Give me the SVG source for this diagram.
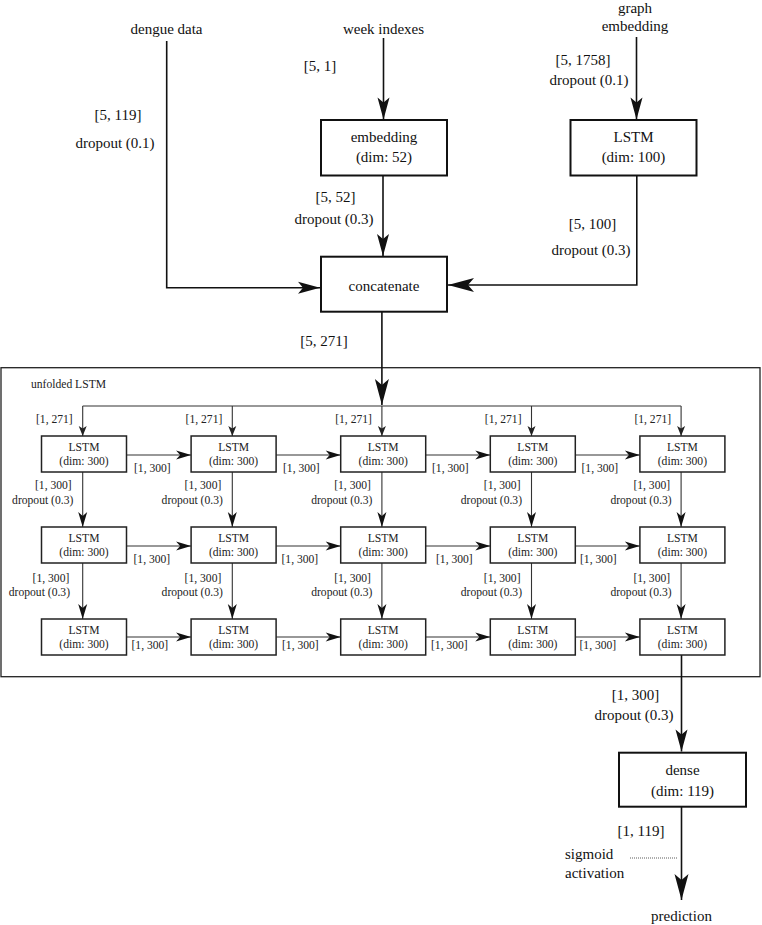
<svg xmlns="http://www.w3.org/2000/svg" width="762" height="925" viewBox="0 0 762 925" font-family="'Liberation Serif', 'Times New Roman', Times, 'DejaVu Serif', serif">
<style>
text{font-family:'Liberation Serif','Times New Roman',Times,'DejaVu Serif',serif;fill:#111}
.t{font-size:15px;text-anchor:middle}
.s{font-size:11.6px;fill:#222}
.m{text-anchor:middle}
.e{text-anchor:end}
.big{fill:#fff;stroke:#111;stroke-width:2}
.box{fill:#fff;stroke:#222;stroke-width:1.5}
.ln{fill:none;stroke:#111;stroke-width:1.6}
.il{fill:none;stroke:#333;stroke-width:1.1}
</style>
<defs>
<marker id="aL" markerUnits="userSpaceOnUse" markerWidth="26" markerHeight="14" refX="26" refY="7" orient="auto" overflow="visible"><path d="M0,0 L26,7 L0,14 L6,7 Z" fill="#111"/></marker>
<marker id="aM" markerUnits="userSpaceOnUse" markerWidth="22" markerHeight="12" refX="22" refY="6" orient="auto" overflow="visible"><path d="M0,0 L22,6 L0,12 L5,6 Z" fill="#111"/></marker>
<marker id="aS" markerUnits="userSpaceOnUse" markerWidth="15" markerHeight="9" refX="15" refY="4.5" orient="auto" overflow="visible"><path d="M0,0 L15,4.5 L0,9 L4,4.5 Z" fill="#111"/></marker>
<marker id="aT" markerUnits="userSpaceOnUse" markerWidth="10" markerHeight="8" refX="10" refY="4" orient="auto" overflow="visible"><path d="M0,0 L10,4 L0,8 L2.5,4 Z" fill="#222"/></marker>
</defs>
<rect width="762" height="925" fill="#fff"/>

<g id="unfolded">
<rect x="1" y="367.7" width="759" height="309" fill="none" stroke="#222" stroke-width="1.3"/>
<text class="s" x="31" y="388">unfolded LSTM</text>
</g>

<g id="connectors">
<path class="ln" d="M166.7,41 V287.7 H320" marker-end="url(#aM)"/>
<path class="ln" d="M383.5,38 V119.5" marker-end="url(#aM)"/>
<path class="ln" d="M636.5,37 V119.5" marker-end="url(#aM)"/>
<path class="ln" d="M383,175.5 V256" marker-end="url(#aM)"/>
<path class="ln" d="M636.8,175.5 V285 H448" marker-end="url(#aL)"/>
<path class="ln" d="M381.9,312 V405" marker-end="url(#aL)"/>
<path class="ln" d="M681.5,655 V751.5" marker-end="url(#aM)"/>
<path class="ln" d="M681.5,807 V900" marker-end="url(#aL)"/>
<line x1="630" y1="858" x2="678" y2="858" stroke="#333" stroke-width="0.8" stroke-dasharray="1,1"/>
<path class="il" d="M82.7,406 H681.1"/>
<path class="il" d="M82.7,406 V436" marker-end="url(#aT)"/>
<path class="il" d="M232.3,406 V436" marker-end="url(#aT)"/>
<path class="il" d="M381.9,406 V436" marker-end="url(#aT)"/>
<path class="il" d="M531.5,406 V436" marker-end="url(#aT)"/>
<path class="il" d="M681.1,406 V436" marker-end="url(#aT)"/>
<path class="il" d="M126.5,455 H191.1" marker-end="url(#aS)"/>
<path class="il" d="M276.1,455 H340.7" marker-end="url(#aS)"/>
<path class="il" d="M425.7,455 H490.3" marker-end="url(#aS)"/>
<path class="il" d="M575.3,455 H639.9" marker-end="url(#aS)"/>
<path class="il" d="M126.5,546 H191.1" marker-end="url(#aS)"/>
<path class="il" d="M276.1,546 H340.7" marker-end="url(#aS)"/>
<path class="il" d="M425.7,546 H490.3" marker-end="url(#aS)"/>
<path class="il" d="M575.3,546 H639.9" marker-end="url(#aS)"/>
<path class="il" d="M126.5,637 H191.1" marker-end="url(#aS)"/>
<path class="il" d="M276.1,637 H340.7" marker-end="url(#aS)"/>
<path class="il" d="M425.7,637 H490.3" marker-end="url(#aS)"/>
<path class="il" d="M575.3,637 H639.9" marker-end="url(#aS)"/>
<path class="il" d="M82.7,472 V527" marker-end="url(#aS)"/>
<path class="il" d="M232.3,472 V527" marker-end="url(#aS)"/>
<path class="il" d="M381.9,472 V527" marker-end="url(#aS)"/>
<path class="il" d="M531.5,472 V527" marker-end="url(#aS)"/>
<path class="il" d="M681.1,472 V527" marker-end="url(#aS)"/>
<path class="il" d="M82.7,563 V619" marker-end="url(#aS)"/>
<path class="il" d="M232.3,563 V619" marker-end="url(#aS)"/>
<path class="il" d="M381.9,563 V619" marker-end="url(#aS)"/>
<path class="il" d="M531.5,563 V619" marker-end="url(#aS)"/>
<path class="il" d="M681.1,563 V619" marker-end="url(#aS)"/>
</g>

<g id="labels">
<text class="t" x="166.5" y="34">dengue data</text>
<text class="t" x="383.5" y="34">week indexes</text>
<text class="t" x="635" y="13">graph</text>
<text class="t" x="635" y="31">embedding</text>
<text class="t" x="320" y="71">[5, 1]</text>
<text class="t" x="583" y="65">[5, 1758]</text>
<text class="t" x="589" y="85">dropout (0.1)</text>
<text class="t" x="118" y="120">[5, 119]</text>
<text class="t" x="115" y="148">dropout (0.1)</text>
<text class="t" x="335.5" y="202">[5, 52]</text>
<text class="t" x="334" y="224">dropout (0.3)</text>
<text class="t" x="592.5" y="228.5">[5, 100]</text>
<text class="t" x="591" y="254.5">dropout (0.3)</text>
<text class="t" x="324" y="346">[5, 271]</text>
<text class="t" x="635.5" y="700">[1, 300]</text>
<text class="t" x="634" y="720">dropout (0.3)</text>
<text class="t" x="641" y="836">[1, 119]</text>
<text class="t" x="565" y="859" style="text-anchor:start">sigmoid</text>
<text class="t" x="565" y="878" style="text-anchor:start">activation</text>
<text class="t" x="681.5" y="921">prediction</text>
<text class="s e" x="72.7" y="422.5">[1, 271]</text>
<text class="s e" x="222.3" y="422.5">[1, 271]</text>
<text class="s e" x="371.9" y="422.5">[1, 271]</text>
<text class="s e" x="521.5" y="422.5">[1, 271]</text>
<text class="s e" x="671.1" y="422.5">[1, 271]</text>
<text class="s" x="134" y="471.5">[1, 300]</text>
<text class="s" x="283" y="471.5">[1, 300]</text>
<text class="s" x="432" y="471.5">[1, 300]</text>
<text class="s" x="581.5" y="471.5">[1, 300]</text>
<text class="s" x="133.5" y="562.5">[1, 300]</text>
<text class="s" x="281.5" y="562.5">[1, 300]</text>
<text class="s" x="436" y="562.5">[1, 300]</text>
<text class="s" x="580" y="562.5">[1, 300]</text>
<text class="s" x="131.5" y="649">[1, 300]</text>
<text class="s" x="282" y="649">[1, 300]</text>
<text class="s" x="431" y="649">[1, 300]</text>
<text class="s" x="579.5" y="649">[1, 300]</text>
<text class="s e" x="71.7" y="489">[1, 300]</text>
<text class="s e" x="73.3" y="503.5">dropout (0.3)</text>
<text class="s e" x="221.3" y="489">[1, 300]</text>
<text class="s e" x="222.8" y="503.5">dropout (0.3)</text>
<text class="s e" x="370.9" y="489">[1, 300]</text>
<text class="s e" x="372.4" y="503.5">dropout (0.3)</text>
<text class="s e" x="520.5" y="489">[1, 300]</text>
<text class="s e" x="522" y="503.5">dropout (0.3)</text>
<text class="s e" x="670.1" y="489">[1, 300]</text>
<text class="s e" x="671.6" y="503.5">dropout (0.3)</text>
<text class="s e" x="69.3" y="581.5">[1, 300]</text>
<text class="s e" x="70" y="596">dropout (0.3)</text>
<text class="s e" x="221.3" y="581.5">[1, 300]</text>
<text class="s e" x="222.8" y="596">dropout (0.3)</text>
<text class="s e" x="370.9" y="581.5">[1, 300]</text>
<text class="s e" x="372.4" y="596">dropout (0.3)</text>
<text class="s e" x="520.5" y="581.5">[1, 300]</text>
<text class="s e" x="522" y="596">dropout (0.3)</text>
<text class="s e" x="670.1" y="581.5">[1, 300]</text>
<text class="s e" x="671.6" y="596">dropout (0.3)</text>
</g>

<g id="embedding">
<rect class="big" x="321" y="120" width="126" height="55.5"/>
<text class="t" x="384" y="142">embedding</text>
<text class="t" x="384" y="162">(dim: 52)</text>
</g>
<g id="lstm-graph">
<rect class="big" x="570.5" y="120" width="126" height="55.5"/>
<text class="t" x="633.5" y="142">LSTM</text>
<text class="t" x="633.5" y="162">(dim: 100)</text>
</g>
<g id="concatenate">
<rect class="big" x="321" y="256.7" width="126" height="55"/>
<text class="t" x="384" y="290.5">concatenate</text>
</g>
<g id="dense">
<rect class="big" x="619" y="752.7" width="127" height="54"/>
<text class="t" x="682.5" y="775">dense</text>
<text class="t" x="682.5" y="796">(dim: 119)</text>
</g>

<g id="lstm-r1c1"><rect class="box" x="41.5" y="436" width="85" height="36"/><text class="s m" x="84" y="451">LSTM</text><text class="s m" x="84" y="464.5">(dim: 300)</text></g>
<g id="lstm-r1c2"><rect class="box" x="191.1" y="436" width="85" height="36"/><text class="s m" x="233.6" y="451">LSTM</text><text class="s m" x="233.6" y="464.5">(dim: 300)</text></g>
<g id="lstm-r1c3"><rect class="box" x="340.7" y="436" width="85" height="36"/><text class="s m" x="383.2" y="451">LSTM</text><text class="s m" x="383.2" y="464.5">(dim: 300)</text></g>
<g id="lstm-r1c4"><rect class="box" x="490.3" y="436" width="85" height="36"/><text class="s m" x="532.8" y="451">LSTM</text><text class="s m" x="532.8" y="464.5">(dim: 300)</text></g>
<g id="lstm-r1c5"><rect class="box" x="639.9" y="436" width="85" height="36"/><text class="s m" x="682.4" y="451">LSTM</text><text class="s m" x="682.4" y="464.5">(dim: 300)</text></g>

<g id="lstm-r2c1"><rect class="box" x="41.5" y="527" width="85" height="36"/><text class="s m" x="84" y="542">LSTM</text><text class="s m" x="84" y="555.5">(dim: 300)</text></g>
<g id="lstm-r2c2"><rect class="box" x="191.1" y="527" width="85" height="36"/><text class="s m" x="233.6" y="542">LSTM</text><text class="s m" x="233.6" y="555.5">(dim: 300)</text></g>
<g id="lstm-r2c3"><rect class="box" x="340.7" y="527" width="85" height="36"/><text class="s m" x="383.2" y="542">LSTM</text><text class="s m" x="383.2" y="555.5">(dim: 300)</text></g>
<g id="lstm-r2c4"><rect class="box" x="490.3" y="527" width="85" height="36"/><text class="s m" x="532.8" y="542">LSTM</text><text class="s m" x="532.8" y="555.5">(dim: 300)</text></g>
<g id="lstm-r2c5"><rect class="box" x="639.9" y="527" width="85" height="36"/><text class="s m" x="682.4" y="542">LSTM</text><text class="s m" x="682.4" y="555.5">(dim: 300)</text></g>

<g id="lstm-r3c1"><rect class="box" x="41.5" y="619" width="85" height="36"/><text class="s m" x="84" y="634">LSTM</text><text class="s m" x="84" y="647.5">(dim: 300)</text></g>
<g id="lstm-r3c2"><rect class="box" x="191.1" y="619" width="85" height="36"/><text class="s m" x="233.6" y="634">LSTM</text><text class="s m" x="233.6" y="647.5">(dim: 300)</text></g>
<g id="lstm-r3c3"><rect class="box" x="340.7" y="619" width="85" height="36"/><text class="s m" x="383.2" y="634">LSTM</text><text class="s m" x="383.2" y="647.5">(dim: 300)</text></g>
<g id="lstm-r3c4"><rect class="box" x="490.3" y="619" width="85" height="36"/><text class="s m" x="532.8" y="634">LSTM</text><text class="s m" x="532.8" y="647.5">(dim: 300)</text></g>
<g id="lstm-r3c5"><rect class="box" x="639.9" y="619" width="85" height="36"/><text class="s m" x="682.4" y="634">LSTM</text><text class="s m" x="682.4" y="647.5">(dim: 300)</text></g>
</svg>
